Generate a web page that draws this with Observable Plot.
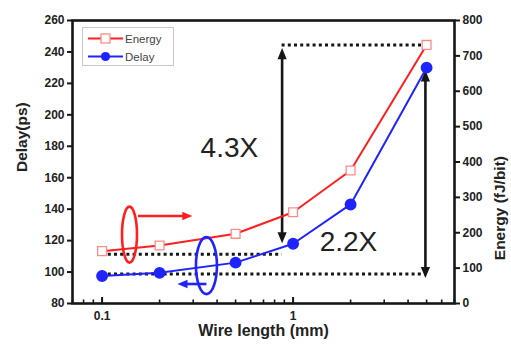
<!DOCTYPE html>
<html>
<head>
<meta charset="utf-8">
<script src="https://cdn.jsdelivr.net/npm/d3@7"></script>
<script src="https://cdn.jsdelivr.net/npm/@observablehq/plot@0.6"></script>
<style>
  body { margin: 0; background: #fff; }
  #chart { position: relative; width: 511px; height: 347px; font-family: "Liberation Sans", Arial, sans-serif; }
  #chart svg { overflow: visible; }
</style>
</head>
<body>
<div id="chart"></div>
<script>
// Measured series
const wireLength = [0.1, 0.2, 0.5, 1, 2, 5];          // mm
const delayPs    = [97.5, 99.5, 106, 118, 143, 230];   // ps (left axis)
const energyFJ   = [148, 164, 197, 258, 376, 731];     // fJ/bit (right axis)
const seriesNames = ["Energy", "Delay"];

// Axis ticks
const delayTicks  = [80, 100, 120, 140, 160, 180, 200, 220, 240, 260];
const energyTicks = [0, 100, 200, 300, 400, 500, 600, 700, 800];
const xMajorTicks = [0.1, 1];
const xMinorTicks = [0.07, 0.08, 0.09, 0.2, 0.3, 0.4, 0.5, 0.6, 0.7, 0.8, 0.9, 2, 3, 4, 5, 6, 7];

// Annotations (data units)
const energyGuideLow = 139;        // fJ/bit, lower dotted guide for energy
const delayGuideLow  = 98.7;       // ps, lower dotted guide for delay
const energyGuideX   = 0.876;      // mm, where the energy double arrow stands
const delayGuideX    = 4.93;       // mm, where the delay double arrow stands
const energySpan     = [170, 722]; // fJ/bit, energy double arrow ends
const delaySpan      = [96.2, 228.3]; // ps, delay double arrow ends
const ratioLabels    = [
  {x: 0.464, y: 178.7, text: "4.3X"},
  {x: 1.95,  y: 119,   text: "2.2X"}
];
const axisMarkers = [
  {x: 0.14,  y: 123.5, color: "red"},   // energy curve -> right axis
  {x: 0.354, y: 103.8, color: "blue"}   // delay curve -> left axis
];
const axisPointers = [
  {tail: 0.155, tip: 0.297, y: 135.7, color: "red"},
  {tail: 0.354, tip: 0.248, y: 92.4,  color: "blue"}
];

// Energy is drawn on the delay scale: 0..800 fJ/bit spans 80..260 ps
const toDelay = e => 80 + e * 180 / 800;
const toEnergy = d => (d - 80) * 800 / 180;

const RED = "#ff1f1f";
const BLUE = "#1f24ff";
const INK = "#161616";
const colorOf = c => c === "red" ? RED : BLUE;

const energy = wireLength.map((x, i) => ({x, y: toDelay(energyFJ[i])}));
const delay  = wireLength.map((x, i) => ({x, y: delayPs[i]}));

// Filled arrowhead with its tip at the origin, pointing up
const arrowHead = {
  draw(ctx, size) {
    const s = Math.sqrt(size / Math.PI);
    ctx.moveTo(0, 0);
    ctx.lineTo(-s, 2.4 * s);
    ctx.lineTo(s, 2.4 * s);
    ctx.closePath();
  }
};

const heads = [
  {x: energyGuideX, y: toDelay(energySpan[1]), a: 0},
  {x: energyGuideX, y: toDelay(energySpan[0]), a: 180},
  {x: delayGuideX,  y: delaySpan[1], a: 0},
  {x: delayGuideX,  y: delaySpan[0], a: 180}
];

const dotted = {stroke: INK, strokeWidth: 3, strokeDasharray: "3,3.2"};
const axisText = {fontSize: 12, fontWeight: "bold", fill: "#222"};

const plot = Plot.plot({
  width: 511,
  height: 347,
  marginLeft: 72,
  marginRight: 57,
  marginTop: 20,
  marginBottom: 44,
  x: {type: "log", domain: [0.07, 7]},
  y: {domain: [80, 260]},
  style: {fontFamily: "'Liberation Sans', Arial, sans-serif", background: "transparent", color: INK},
  marks: [
    // dotted reference guides
    Plot.ruleY([toDelay(energyFJ[5])], {x1: energyGuideX, x2: wireLength[5], ...dotted}),
    Plot.ruleY([toDelay(energyGuideLow)], {x1: wireLength[0], x2: energyGuideX, ...dotted}),
    Plot.ruleY([delayGuideLow], {x1: wireLength[0], x2: delayGuideX, ...dotted}),

    // double arrows
    Plot.ruleX([energyGuideX], {y1: toDelay(energySpan[1]), y2: toDelay(energySpan[0]), stroke: INK, strokeWidth: 2.6, insetTop: 6, insetBottom: 6}),
    Plot.ruleX([delayGuideX], {y1: delaySpan[1], y2: delaySpan[0], stroke: INK, strokeWidth: 2.6, insetTop: 6, insetBottom: 6}),
    Plot.dot(heads, {x: "x", y: "y", rotate: "a", symbol: arrowHead, r: 4.6, fill: INK, stroke: null}),

    // series
    Plot.line(energy, {x: "x", y: "y", stroke: RED, strokeWidth: 2}),
    Plot.line(delay, {x: "x", y: "y", stroke: BLUE, strokeWidth: 2}),
    Plot.dot(energy, {x: "x", y: "y", symbol: "square", r: 5, fill: "white", stroke: "#ff8a8a", strokeWidth: 1.3}),
    Plot.dot(delay, {x: "x", y: "y", r: 5.2, fill: BLUE, stroke: BLUE}),

    // ellipses marking which axis each curve belongs to
    Plot.dot(axisMarkers, {
      x: "x", y: "y",
      render(index, scales, values) {
        const g = d3.create("svg:g");
        for (const i of index) {
          const red = axisMarkers[i].color === "red";
          g.append("ellipse")
            .attr("cx", values.x[i]).attr("cy", values.y[i])
            .attr("rx", red ? 7.5 : 10.5).attr("ry", red ? 28 : 28.5)
            .attr("fill", "none")
            .attr("stroke", colorOf(axisMarkers[i].color))
            .attr("stroke-width", 2.6);
        }
        return g.node();
      }
    }),
    // pointers from each ellipse toward its axis
    ...axisPointers.map(p => {
      const right = p.tip > p.tail;
      return Plot.ruleY([p.y], {
        x1: Math.min(p.tail, p.tip), x2: Math.max(p.tail, p.tip),
        stroke: colorOf(p.color), strokeWidth: 2.6,
        insetLeft: right ? 0 : 6, insetRight: right ? 6 : 0
      });
    }),
    ...axisPointers.map(p => Plot.dot([p], {
      x: "tip", y: "y", rotate: () => (p.tip > p.tail ? 90 : -90),
      symbol: arrowHead, r: 4.2, fill: colorOf(p.color), stroke: null
    })),

    // ratio labels
    Plot.text(ratioLabels, {x: "x", y: "y", text: "text", fontSize: 28, fill: "#222"}),

    // frame and axes
    Plot.frame({stroke: INK, strokeWidth: 2.6}),
    Plot.axisY(delayTicks, {anchor: "left", tickSize: 5, tickPadding: 3, strokeWidth: 2, label: null, ...axisText}),
    Plot.axisY(energyTicks.map(toDelay), {anchor: "right", tickSize: 5, tickPadding: 3, strokeWidth: 2, label: null,
      tickFormat: d => String(Math.round(toEnergy(d))), ...axisText}),
    Plot.axisX(xMajorTicks, {anchor: "bottom", tickSize: -6, strokeWidth: 2, label: null, tickFormat: () => ""}),
    Plot.axisX(xMinorTicks, {anchor: "bottom", tickSize: -3.5, strokeWidth: 1.6, label: null, tickFormat: () => ""}),
    Plot.axisX(xMajorTicks, {anchor: "bottom", tickSize: 0, tickPadding: 8, label: null, tickFormat: d => String(d), ...axisText}),

    // axis titles
    Plot.text(["Delay(ps)"], {frameAnchor: "left", dx: -50, dy: 10, rotate: -90, fontSize: 15.5, fontWeight: "bold", fill: "#222"}),
    Plot.text(["Energy (fJ/bit)"], {frameAnchor: "right", dx: 46, dy: -6, rotate: -90, fontSize: 15.5, fontWeight: "bold", fill: "#222"}),
    Plot.text(["Wire length (mm)"], {frameAnchor: "bottom", dy: 32, fontSize: 16, fontWeight: "bold", fill: "#222"})
  ]
});

const chart = document.getElementById("chart");
chart.appendChild(plot);

// Series legend, boxed in the upper-left corner of the frame
const legend = d3.select(chart).append("svg")
  .style("position", "absolute").style("left", "82px").style("top", "27px")
  .attr("width", 92).attr("height", 39);
legend.append("rect").attr("x", 0.5).attr("y", 0.5).attr("width", 91).attr("height", 38)
  .attr("fill", "white").attr("stroke", "#c8c8c8");
seriesNames.forEach((name, i) => {
  const cy = 11.5 + i * 18;
  const c = i === 0 ? RED : BLUE;
  legend.append("line").attr("x1", 6).attr("x2", 41).attr("y1", cy).attr("y2", cy)
    .attr("stroke", c).attr("stroke-width", 2);
  if (i === 0) {
    legend.append("rect").attr("x", 19).attr("y", cy - 4.5).attr("width", 9).attr("height", 9)
      .attr("fill", "white").attr("stroke", "#ff8a8a").attr("stroke-width", 1.3);
  } else {
    legend.append("circle").attr("cx", 23.5).attr("cy", cy).attr("r", 4.6).attr("fill", c);
  }
  legend.append("text").attr("x", 43).attr("y", cy).attr("dy", "0.35em")
    .attr("font-size", 11.5).attr("fill", "#444").text(name);
});
</script>
</body>
</html>
